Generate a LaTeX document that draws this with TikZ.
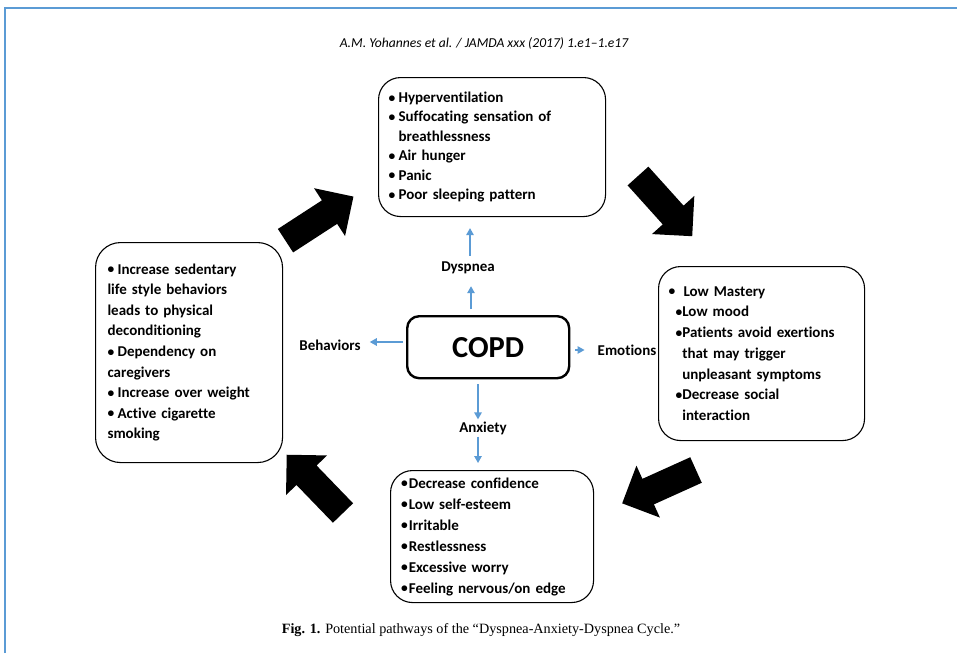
\documentclass[tikz,border=0pt]{standalone}
\usepackage{fontspec}
\setmainfont{Carlito}[Ligatures=NoCommon]
\newfontfamily\capfont{Liberation Serif}
\newfontfamily\hdrfont{Carlito}[Ligatures=NoCommon]
\usetikzlibrary{arrows.meta,calc}
\definecolor{bord}{RGB}{91,155,213}
\definecolor{blarr}{RGB}{91,155,213}
\newcommand\blockarr[3]{\fill[black,shift={(#1,#2)},rotate=#3] (0,-14) -- (52.5,-14) -- (52.5,-28.5) -- (81,0) -- (52.5,28.5) -- (52.5,14) -- (0,14) -- cycle;}
\newcommand\bl[1]{\makebox[#1][l]{\raisebox{0.4pt}{\fontsize{13.5}{13.5}\selectfont •}}}
\begin{document}
\begin{tikzpicture}[x=1pt,y=-1pt,
  box/.style={draw=black, line width=1.1pt, rounded corners=22pt, align=left,
    anchor=north west, inner ysep=0pt},
  lbl/.style={font=\bfseries\fontsize{15}{18}\selectfont, inner sep=2pt},
  blu/.style={draw=blarr, line width=1.3pt, -{Triangle[length=7pt,width=7.5pt]}}]
\useasboundingbox (0,0) rectangle (957,653);
\fill[white] (0,0) rectangle (957,653);
\draw[bord, line width=2pt] (5,653) -- (5,8) -- (957,8);

\node (hdr) at (484,43) {\hdrfont\itshape\fontsize{13.6}{15}\selectfont A.M. Yohannes et al. / JAMDA xxx (2017) 1.e1–1.e17};

% boxes
\node[box, inner xsep=10pt, text width=207pt, minimum width=227pt, minimum height=139pt,
  font=\bfseries\fontsize{15}{19.4}\selectfont] (dbox) at (378,77)
  {\bl{10pt}Hyperventilation\\
   \bl{10pt}Suffocating sensation of\\
   \hspace*{10pt}breathlessness\\
   \bl{10pt}Air hunger\\
   \bl{10pt}Panic\\
   \bl{10pt}Poor sleeping pattern};

\node[box, rounded corners=25pt, inner xsep=12pt, text width=163pt, minimum width=187pt, minimum height=220pt,
  font=\bfseries\fontsize{15}{20.6}\selectfont] (bbox) at (95,242)
  {\bl{10pt}Increase sedentary\\
   life style behaviors\\
   leads to physical\\
   deconditioning\\
   \bl{10pt}Dependency on\\
   caregivers\\
   \bl{10pt}Increase over weight\\
   \bl{10pt}Active cigarette\\
   smoking};

\node[box, inner xsep=10pt, text width=186pt, minimum width=206pt, minimum height=174pt,
  font=\bfseries\fontsize{15}{20.7}\selectfont] (ebox) at (658,266)
  {\bl{15pt}Low Mastery\\
   \hspace*{7pt}\bl{6.8pt}Low mood\\
   \hspace*{7pt}\bl{6.8pt}Patients avoid exertions\\
   \hspace*{13.8pt}that may trigger\\
   \hspace*{13.8pt}unpleasant symptoms\\
   \hspace*{7pt}\bl{6.8pt}Decrease social\\
   \hspace*{13.8pt}interaction};

\node[box, inner xsep=10.5pt, text width=182pt, minimum width=203pt, minimum height=132pt,
  font=\bfseries\fontsize{15}{21}\selectfont] (abox) at (390,470)
  {\bl{7.8pt}Decrease confidence\\
   \bl{7.8pt}Low self-esteem\\
   \bl{7.8pt}Irritable\\
   \bl{7.8pt}Restlessness\\
   \bl{7.8pt}Excessive worry\\
   \bl{7.8pt}Feeling nervous/on edge};

\node[draw=black, line width=2.4pt, rounded corners=12pt, anchor=north west,
  minimum width=162pt, minimum height=62pt, inner sep=0pt,
  font=\bfseries\fontsize{30.5}{34}\selectfont] (copd) at (406,315) {COPD};

% labels
\node[lbl] (dysp) at (468,268) {Dyspnea};
\node[lbl] (anx) at (483,428) {Anxiety};
\node[lbl] (emo) at (627,350) {Emotions};
\node[lbl] (beh) at (330,345) {Behaviors};

% blue arrows
\draw[blu] ($(copd.north -| dysp)+(3,-6)$) -- ($(dysp.south)+(3,10)$);
\draw[blu] ($(dysp.north)+(2,-4)$) -- ($(dbox.south -| dysp)+(2,11)$);
\draw[blu] ($(copd.south -| anx)+(-5,5)$) -- ($(anx.north)+(-5,0)$);
\draw[blu] ($(anx.south)+(-5,0)$) -- ($(abox.north -| anx)+(-5,-7)$);
\draw[blu] ($(copd.east |- emo)+(5,0)$) -- ($(emo.west)+(-11,0)$);
\draw[blu] ($(copd.west |- beh)+(-3,-3)$) -- ($(beh.east)+(7,-3)$);

% black block arrows
\blockarr{285.5}{240.7}{33}
\blockarr{638}{176}{-48}
\blockarr{696}{470}{204.3}
\blockarr{343}{513}{134}

\node (cap) at (481,630) {\capfont\fontsize{14.2}{16}\selectfont\textbf{Fig. 1.} Potential pathways of the “Dyspnea-Anxiety-Dyspnea Cycle.”};
\end{tikzpicture}
\end{document}
